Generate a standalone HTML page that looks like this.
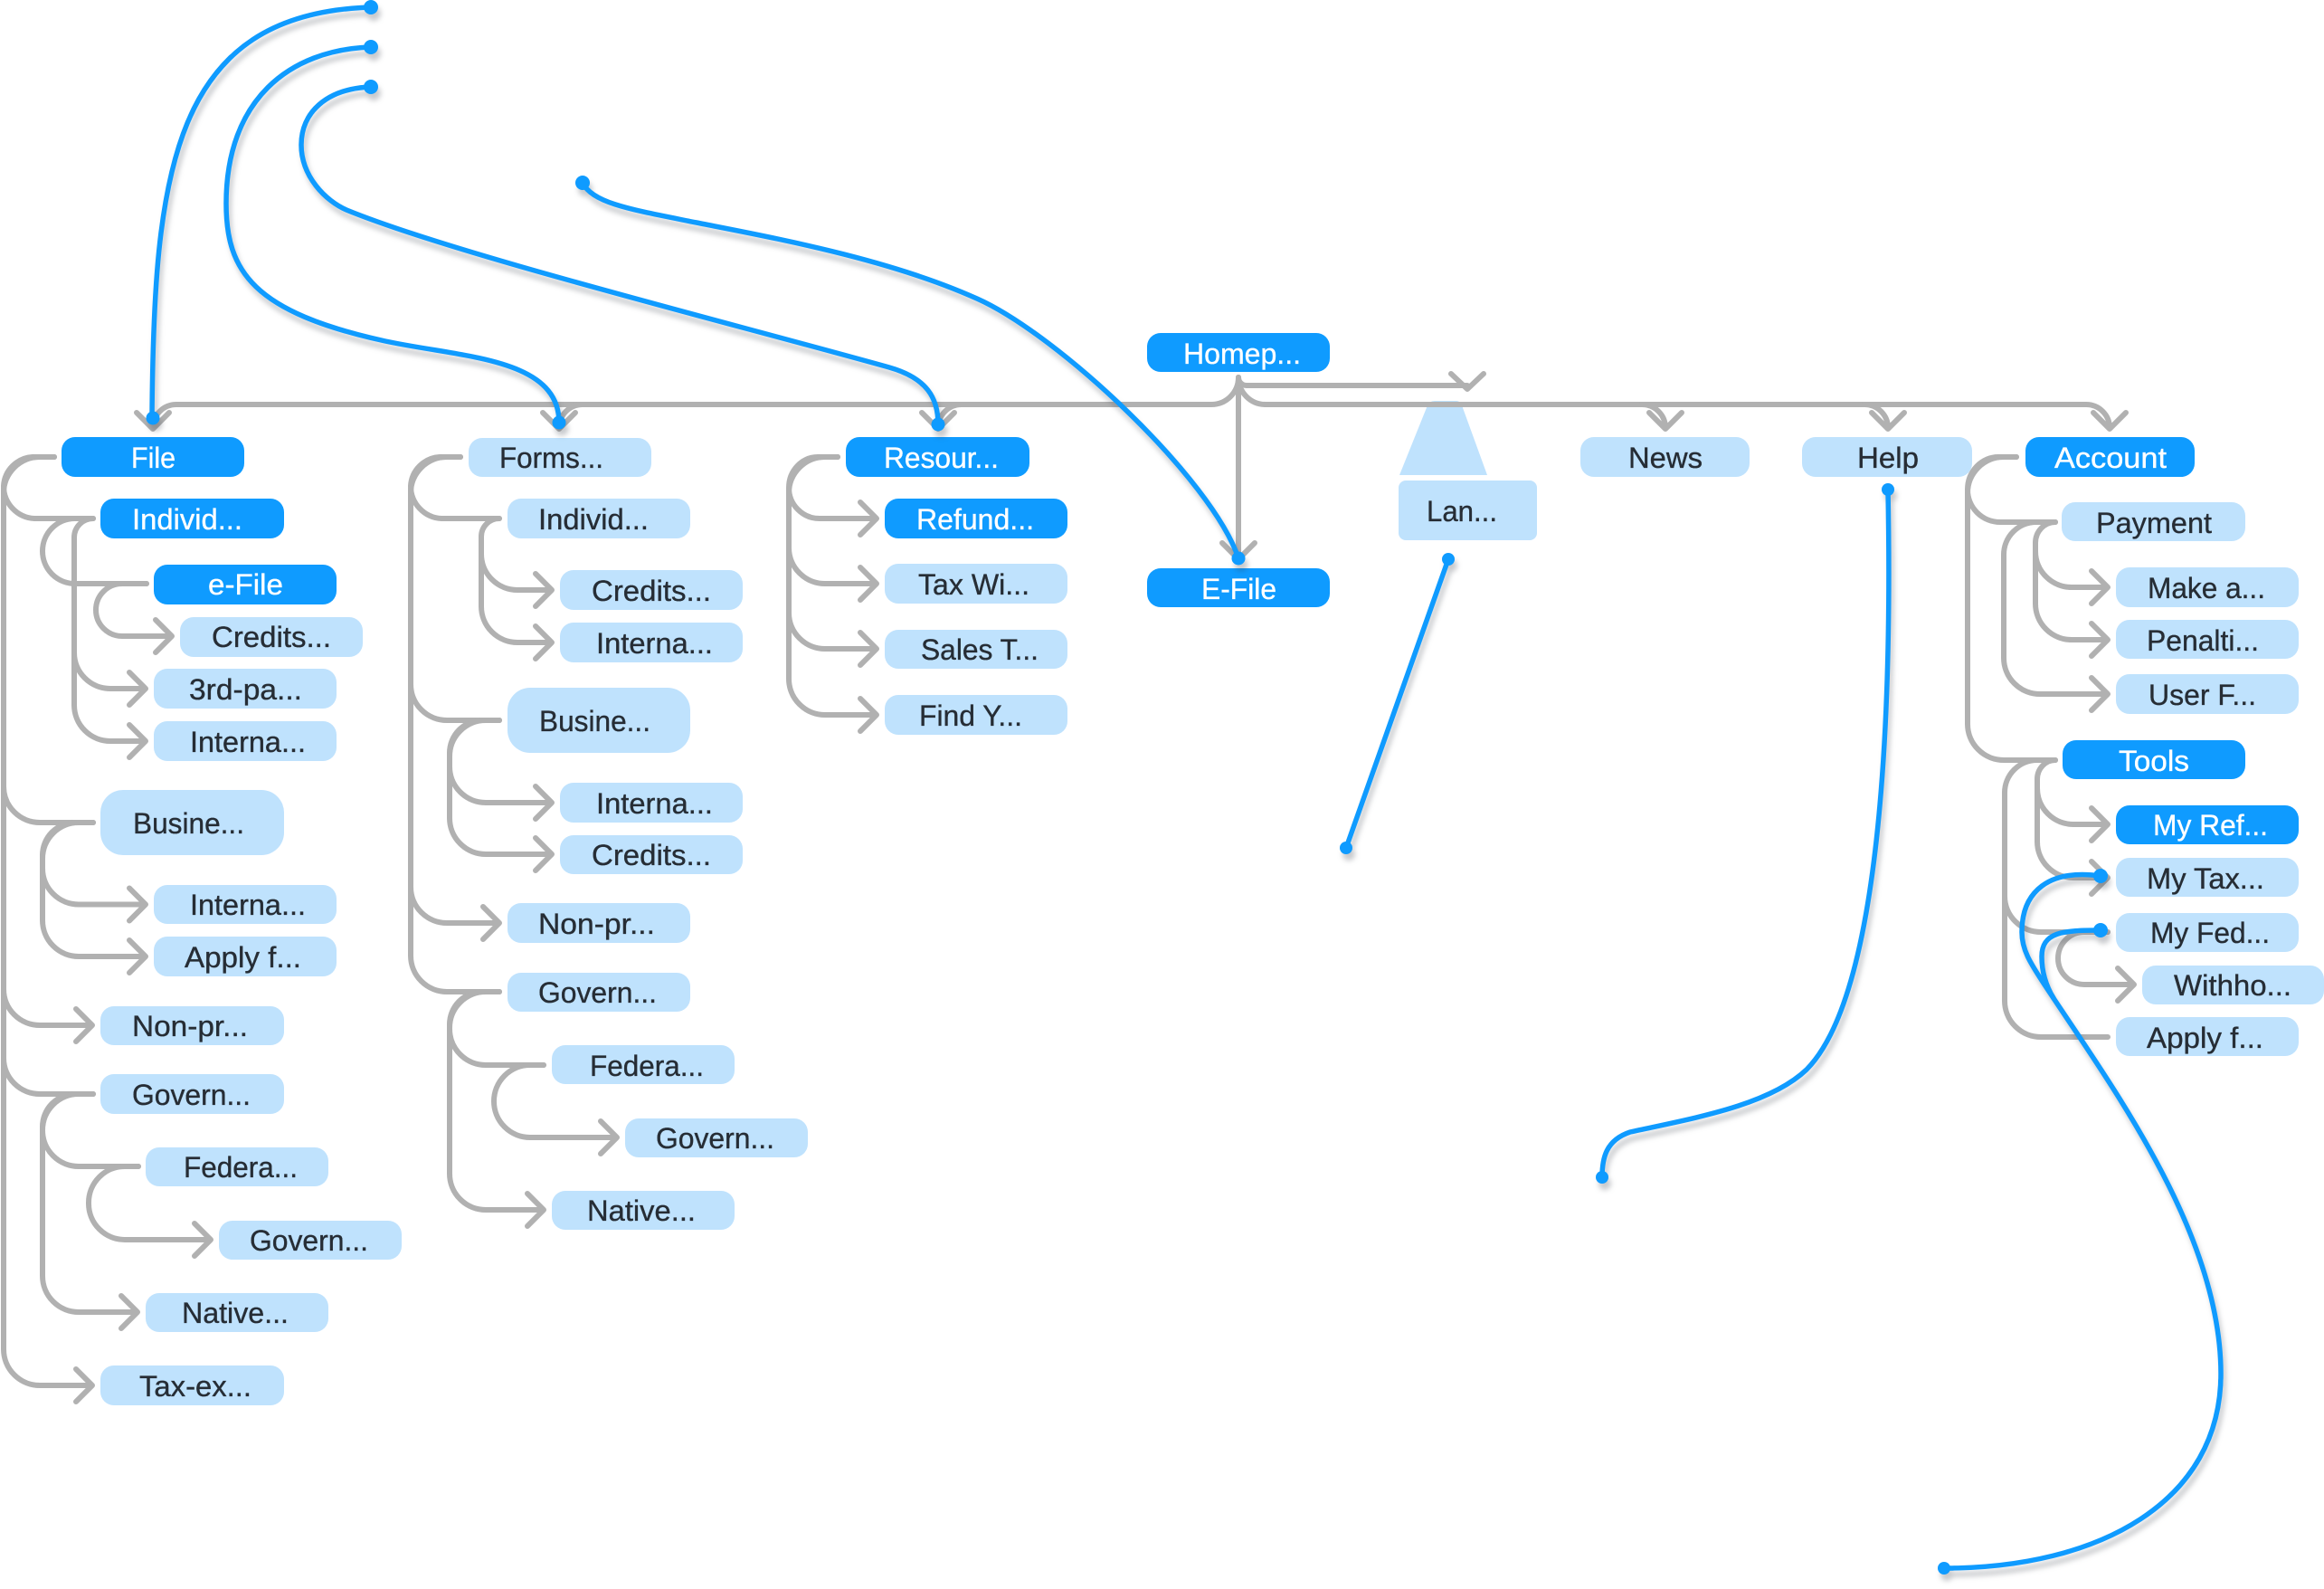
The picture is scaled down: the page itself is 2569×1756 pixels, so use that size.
<!DOCTYPE html>
<html><head><meta charset="utf-8"><style>
html,body{margin:0;padding:0;background:#fff}
svg{display:block}
text{font-family:"Liberation Sans",sans-serif;font-size:32px;fill:#262d35;stroke:#262d35;stroke-width:.35}
text.w{fill:#fff;stroke:#fff}
.b{fill:#0f9bff}.l{fill:#bfe2fd}
.g{fill:none;stroke:#b1b1b1;stroke-width:6;stroke-linecap:round;stroke-linejoin:round}
.c{fill:none;stroke:#0f9bff;stroke-width:5.5;stroke-linecap:round}
.s{filter:drop-shadow(3px 7px 3px rgba(50,60,70,.27))}
</style></head><body>
<svg width="2569" height="1756" viewBox="0 0 2569 1756" xmlns="http://www.w3.org/2000/svg">
<path class="l" d="M1586 443H1610Q1614 443 1616 448L1644 525H1547L1578 448Q1580 443 1586 443Z"/>
<g class="g">
<path d="M1369 417A30 30 0 0 1 1339 447H195A26 26 0 0 0 169 473M151 456L169 474L187 456"/>
<path d="M644 447A26 26 0 0 0 618 473M600 456L618 474L636 456"/>
<path d="M1063 447A26 26 0 0 0 1037 473M1019 456L1037 474L1055 456"/>
<path d="M1369 417A30 30 0 0 0 1399 447H2306A26 26 0 0 1 2332 473M2314 456L2332 474L2350 456"/>
<path d="M1815 447A26 26 0 0 1 1841 473M1823 456L1841 474L1859 456"/>
<path d="M2061 447A26 26 0 0 1 2087 473M2069 456L2087 474L2105 456"/>
<path d="M1369 417V618M1351 600L1369 618L1387 600"/>
<path d="M1369 417A9 9 0 0 0 1378 426H1622M1604 413L1622 430L1640 413"/>
<path d="M60 505H36A34 34 0 0 0 4 537A36 36 0 0 0 38 573H103"/>
<path d="M60 505H44A40 40 0 0 0 4 545V869A40 40 0 0 0 44 909H103"/>
<path d="M60 505H42A38 38 0 0 0 4 543V1093A40 40 0 0 0 44 1133H102M84 1115L102 1133L84 1151"/>
<path d="M4 545V1169A40 40 0 0 0 44 1209H103"/>
<path d="M4 545V1491A40 40 0 0 0 44 1531H102M84 1513L102 1531L84 1549"/>
<path d="M103 573H83A36 36 0 0 0 47 609A36 36 0 0 0 83 645H162"/>
<path d="M103 573A21 21 0 0 0 82 594V721A40 40 0 0 0 122 761H161M143 743L161 761L143 779"/>
<path d="M82 594V779A40 40 0 0 0 122 819H161M143 801L161 819L143 837"/>
<path d="M162 645H135A29 29 0 0 0 106 674A29 29 0 0 0 135 703H190M172 685L190 703L172 721"/>
<path d="M103 909H83A36 36 0 0 0 47 945V959.5A40 40 0 0 0 87 999.5H161M143 981.5L161 999.5L143 1017.5"/>
<path d="M103 909H87A40 40 0 0 0 47 949V1017A40 40 0 0 0 87 1057H161M143 1039L161 1057L143 1075"/>
<path d="M103 1209H83A36 36 0 0 0 47 1245V1249A40 40 0 0 0 87 1289H153"/>
<path d="M103 1209H87A40 40 0 0 0 47 1249V1410A40 40 0 0 0 87 1450H152M134 1432L152 1450L134 1468"/>
<path d="M153 1289H138A40 40 0 0 0 98 1329V1330A40 40 0 0 0 138 1370H233M215 1352L233 1370L215 1388"/>
<path d="M509 505H486A34 34 0 0 0 454 537A36 36 0 0 0 488 573H552"/>
<path d="M509 505H494A40 40 0 0 0 454 545V756A40 40 0 0 0 494 796H552"/>
<path d="M509 505H492A38 38 0 0 0 454 543V980A40 40 0 0 0 494 1020H552M534 1002L552 1020L534 1038"/>
<path d="M454 545V1056A40 40 0 0 0 494 1096H552"/>
<path d="M552 573A20 20 0 0 0 532 593V612A40 40 0 0 0 572 652H610M592 634L610 652L592 670"/>
<path d="M532 593V670A40 40 0 0 0 572 710H610M592 692L610 710L592 728"/>
<path d="M552 796H533A36 36 0 0 0 497 832V847A40 40 0 0 0 537 887H610M592 869L610 887L592 905"/>
<path d="M552 796H537A40 40 0 0 0 497 836V904A40 40 0 0 0 537 944H610M592 926L610 944L592 962"/>
<path d="M552 1096H533A36 36 0 0 0 497 1132V1137A40 40 0 0 0 537 1177H601"/>
<path d="M552 1096H537A40 40 0 0 0 497 1136V1297A40 40 0 0 0 537 1337H601M583 1319L601 1337L583 1355"/>
<path d="M601 1177H586A40 40 0 0 0 546 1217A40 40 0 0 0 586 1257H682M664 1239L682 1257L664 1275"/>
<path d="M926 505H904A32 34 0 0 0 872 539A34 34 0 0 0 906 573H969M951 555L969 573L951 591"/>
<path d="M926 505H910A38 38 0 0 0 872 543V605A40 40 0 0 0 912 645H969M951 627L969 645L951 663"/>
<path d="M926 505H912A40 40 0 0 0 872 545V677A40 40 0 0 0 912 717H969M951 699L969 717L951 735"/>
<path d="M872 545V750A40 40 0 0 0 912 790H969M951 772L969 790L951 808"/>
<path d="M2229 505H2209A34 36 0 0 0 2175 541A36 36 0 0 0 2211 577H2272"/>
<path d="M2229 505H2215A40 40 0 0 0 2175 545V800A40 40 0 0 0 2215 840H2272"/>
<path d="M2272 577A22 23 0 0 0 2250 600V609A40 40 0 0 0 2290 649H2330M2312 631L2330 649L2312 667"/>
<path d="M2250 600V667A40 40 0 0 0 2290 707H2330M2312 689L2330 707L2312 725"/>
<path d="M2272 577H2251A36 36 0 0 0 2215 613V727A40 40 0 0 0 2255 767H2330M2312 749L2330 767L2312 785"/>
<path d="M2272 840A20 21 0 0 0 2252 861V871A40 40 0 0 0 2292 911H2330M2312 893L2330 911L2312 929"/>
<path d="M2252 861V930A40 40 0 0 0 2292 970H2330M2312 952L2330 970L2312 988"/>
<path d="M2272 840H2252A36 36 0 0 0 2216 876V990A40 40 0 0 0 2256 1030H2330"/>
<path d="M2216 876V1106A40 40 0 0 0 2256 1146H2330"/>
<path d="M2330 1030H2304A29 29 0 0 0 2275 1059A29 29 0 0 0 2304 1088H2359M2341 1070L2359 1088L2341 1106"/>
</g>
<rect class="b" x="68" y="483" width="202" height="44" rx="15"/>
<rect class="b" x="111" y="551" width="203" height="44" rx="15"/>
<rect class="b" x="170" y="624" width="202" height="44" rx="15"/>
<rect class="l" x="199" y="682" width="202" height="44" rx="15"/>
<rect class="l" x="170" y="739" width="202" height="44" rx="15"/>
<rect class="l" x="170" y="797" width="202" height="44" rx="15"/>
<rect class="l" x="111" y="873" width="203" height="72" rx="25"/>
<rect class="l" x="170" y="978" width="202" height="43" rx="15"/>
<rect class="l" x="170" y="1035" width="202" height="44" rx="15"/>
<rect class="l" x="111" y="1112" width="203" height="43" rx="15"/>
<rect class="l" x="111" y="1187" width="203" height="44" rx="15"/>
<rect class="l" x="161" y="1268" width="202" height="43" rx="15"/>
<rect class="l" x="242" y="1349" width="202" height="43" rx="15"/>
<rect class="l" x="161" y="1429" width="202" height="43" rx="15"/>
<rect class="l" x="111" y="1509" width="203" height="44" rx="15"/>
<rect class="l" x="518" y="484" width="202" height="43" rx="15"/>
<rect class="l" x="561" y="551" width="202" height="44" rx="15"/>
<rect class="l" x="619" y="630" width="202" height="44" rx="15"/>
<rect class="l" x="619" y="688" width="202" height="44" rx="15"/>
<rect class="l" x="561" y="760" width="202" height="72" rx="25"/>
<rect class="l" x="619" y="865" width="202" height="44" rx="15"/>
<rect class="l" x="619" y="923" width="202" height="43" rx="15"/>
<rect class="l" x="561" y="998" width="202" height="44" rx="15"/>
<rect class="l" x="561" y="1075" width="202" height="43" rx="15"/>
<rect class="l" x="610" y="1155" width="202" height="43" rx="15"/>
<rect class="l" x="691" y="1236" width="202" height="43" rx="15"/>
<rect class="l" x="610" y="1316" width="202" height="43" rx="15"/>
<rect class="b" x="935" y="483" width="203" height="44" rx="15"/>
<rect class="b" x="978" y="551" width="202" height="44" rx="15"/>
<rect class="l" x="978" y="623" width="202" height="44" rx="15"/>
<rect class="l" x="978" y="696" width="202" height="43" rx="15"/>
<rect class="l" x="978" y="768" width="202" height="44" rx="15"/>
<rect class="b" x="1268" y="368" width="202" height="43" rx="15"/>
<rect class="b" x="1268" y="628" width="202" height="43" rx="15"/>
<rect class="l" x="1546" y="531" width="153" height="66" rx="8"/>
<rect class="l" x="1747" y="483" width="187" height="44" rx="15"/>
<rect class="l" x="1992" y="483" width="188" height="44" rx="15"/>
<rect class="b" x="2239" y="483" width="187" height="44" rx="15"/>
<rect class="l" x="2279" y="555" width="203" height="43" rx="15"/>
<rect class="l" x="2339" y="627" width="202" height="44" rx="15"/>
<rect class="l" x="2339" y="685" width="202" height="43" rx="15"/>
<rect class="l" x="2339" y="745" width="202" height="44" rx="15"/>
<rect class="b" x="2280" y="818" width="202" height="43" rx="15"/>
<rect class="b" x="2339" y="890" width="202" height="43" rx="15"/>
<rect class="l" x="2339" y="948" width="202" height="43" rx="15"/>
<rect class="l" x="2339" y="1009" width="202" height="43" rx="15"/>
<rect class="l" x="2368" y="1067" width="201" height="43" rx="15"/>
<rect class="l" x="2339" y="1124" width="202" height="43" rx="15"/>
<g>
<text class="w" x="145" y="517" textLength="49" lengthAdjust="spacingAndGlyphs">File</text>
<text class="w" x="146" y="585" textLength="122" lengthAdjust="spacingAndGlyphs">Individ...</text>
<text class="w" x="230" y="657" textLength="83" lengthAdjust="spacingAndGlyphs">e-File</text>
<text x="234" y="715" textLength="132" lengthAdjust="spacingAndGlyphs">Credits...</text>
<text x="209" y="773" textLength="125" lengthAdjust="spacingAndGlyphs">3rd-pa...</text>
<text x="210" y="831" textLength="128" lengthAdjust="spacingAndGlyphs">Interna...</text>
<text x="147" y="921" textLength="123" lengthAdjust="spacingAndGlyphs">Busine...</text>
<text x="210" y="1011" textLength="128" lengthAdjust="spacingAndGlyphs">Interna...</text>
<text x="204" y="1069" textLength="129" lengthAdjust="spacingAndGlyphs">Apply f...</text>
<text x="146" y="1145" textLength="128" lengthAdjust="spacingAndGlyphs">Non-pr...</text>
<text x="146" y="1221" textLength="131" lengthAdjust="spacingAndGlyphs">Govern...</text>
<text x="203" y="1301" textLength="126" lengthAdjust="spacingAndGlyphs">Federa...</text>
<text x="276" y="1382" textLength="131" lengthAdjust="spacingAndGlyphs">Govern...</text>
<text x="201" y="1462" textLength="118" lengthAdjust="spacingAndGlyphs">Native...</text>
<text x="154" y="1543" textLength="124" lengthAdjust="spacingAndGlyphs">Tax-ex...</text>
<text x="552" y="517" textLength="115" lengthAdjust="spacingAndGlyphs">Forms...</text>
<text x="595" y="585" textLength="122" lengthAdjust="spacingAndGlyphs">Individ...</text>
<text x="654" y="664" textLength="132" lengthAdjust="spacingAndGlyphs">Credits...</text>
<text x="659" y="722" textLength="129" lengthAdjust="spacingAndGlyphs">Interna...</text>
<text x="596" y="808" textLength="123" lengthAdjust="spacingAndGlyphs">Busine...</text>
<text x="659" y="899" textLength="129" lengthAdjust="spacingAndGlyphs">Interna...</text>
<text x="654" y="956" textLength="132" lengthAdjust="spacingAndGlyphs">Credits...</text>
<text x="595" y="1032" textLength="129" lengthAdjust="spacingAndGlyphs">Non-pr...</text>
<text x="595" y="1108" textLength="131" lengthAdjust="spacingAndGlyphs">Govern...</text>
<text x="652" y="1189" textLength="126" lengthAdjust="spacingAndGlyphs">Federa...</text>
<text x="725" y="1269" textLength="131" lengthAdjust="spacingAndGlyphs">Govern...</text>
<text x="649" y="1349" textLength="120" lengthAdjust="spacingAndGlyphs">Native...</text>
<text class="w" x="977" y="517" textLength="127" lengthAdjust="spacingAndGlyphs">Resour...</text>
<text class="w" x="1013" y="585" textLength="130" lengthAdjust="spacingAndGlyphs">Refund...</text>
<text x="1015" y="657" textLength="123" lengthAdjust="spacingAndGlyphs">Tax Wi...</text>
<text x="1018" y="729" textLength="130" lengthAdjust="spacingAndGlyphs">Sales T...</text>
<text x="1016" y="802" textLength="114" lengthAdjust="spacingAndGlyphs">Find Y...</text>
<text class="w" x="1308" y="402" textLength="130" lengthAdjust="spacingAndGlyphs">Homep...</text>
<text class="w" x="1328" y="662" textLength="83" lengthAdjust="spacingAndGlyphs">E-File</text>
<text x="1577" y="576" textLength="78" lengthAdjust="spacingAndGlyphs">Lan...</text>
<text x="1800" y="517" textLength="82" lengthAdjust="spacingAndGlyphs">News</text>
<text x="2053" y="517" textLength="68" lengthAdjust="spacingAndGlyphs">Help</text>
<text class="w" x="2271" y="517" textLength="124" lengthAdjust="spacingAndGlyphs">Account</text>
<text x="2317" y="589" textLength="128" lengthAdjust="spacingAndGlyphs">Payment</text>
<text x="2374" y="661" textLength="130" lengthAdjust="spacingAndGlyphs">Make a...</text>
<text x="2373" y="719" textLength="124" lengthAdjust="spacingAndGlyphs">Penalti...</text>
<text x="2375" y="779" textLength="119" lengthAdjust="spacingAndGlyphs">User F...</text>
<text class="w" x="2342" y="852" textLength="78" lengthAdjust="spacingAndGlyphs">Tools</text>
<text class="w" x="2380" y="923" textLength="127" lengthAdjust="spacingAndGlyphs">My Ref...</text>
<text x="2373" y="982" textLength="130" lengthAdjust="spacingAndGlyphs">My Tax...</text>
<text x="2377" y="1042" textLength="132" lengthAdjust="spacingAndGlyphs">My Fed...</text>
<text x="2403" y="1100" textLength="130" lengthAdjust="spacingAndGlyphs">Withho...</text>
<text x="2373" y="1158" textLength="129" lengthAdjust="spacingAndGlyphs">Apply f...</text>
</g>
<g class="s">
<path class="c" d="M410 8C190 15 170 190 168 462"/>
<path class="c" d="M410 52C320 55 250 110 250 225C250 300 280 345 426 377C510 395 618 395 618 467"/>
<path class="c" d="M410 96C360 98 333 125 333 160C333 195 360 222 383 232C500 280 800 355 983 406C1025 418 1037 440 1037 469"/>
<path class="c" d="M644 202C655 225 700 232 770 246C850 262 980 285 1080 330C1170 370 1340 530 1369 617"/>
<path class="c" d="M1601 618L1488 937"/>
<path class="c" d="M2087 541C2092 800 2078 1100 1997 1182C1955 1222 1870 1236 1802 1251C1775 1260 1771 1280 1771 1301"/>
<path class="c" d="M2322 1028C2280 1028 2257 1030 2257 1057C2257 1075 2262 1090 2270 1103"/>
<path class="c" d="M2322 968C2265 960 2235 985 2235 1030C2235 1050 2245 1065 2258 1085C2330 1195 2455 1360 2455 1518C2455 1660 2320 1733 2149 1733"/>
<g class="b">
<circle cx="410" cy="8" r="8"/><circle cx="410" cy="52" r="8"/><circle cx="410" cy="96" r="8"/>
<circle cx="644" cy="202" r="8"/><circle cx="169" cy="462" r="7.5"/><circle cx="618" cy="467" r="7.5"/>
<circle cx="1037" cy="469" r="7.5"/><circle cx="1369" cy="617" r="7.5"/><circle cx="1601" cy="618" r="7"/>
<circle cx="1488" cy="937" r="7"/><circle cx="2087" cy="541" r="7"/><circle cx="1771" cy="1301" r="7"/>
<circle cx="2322" cy="968" r="8"/><circle cx="2322" cy="1028" r="8"/><circle cx="2149" cy="1733" r="7"/>
</g>
</g>
</svg>
</body></html>
